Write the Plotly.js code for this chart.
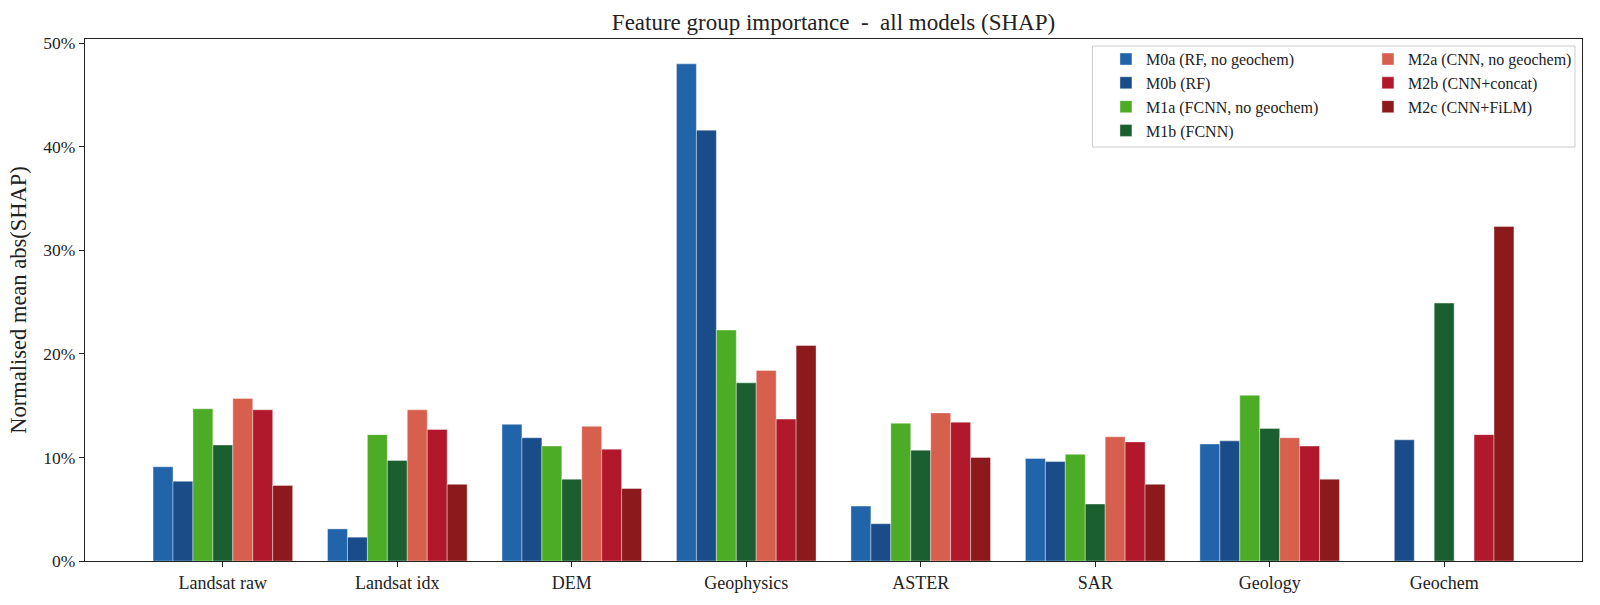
<!DOCTYPE html>
<html>
<head>
<meta charset="utf-8">
<script src="https://cdn.plot.ly/plotly-3.0.1.min.js"></script>
<style>
  html, body { margin: 0; padding: 0; background: #fff; }
  #graph { width: 1600px; height: 605px; }
</style>
</head>
<body>
<div id="graph"></div>
<script>
// feature groups on the x axis
const groups = ['Landsat raw', 'Landsat idx', 'DEM', 'Geophysics', 'ASTER', 'SAR', 'Geology', 'Geochem'];

// normalised mean |SHAP| per model, in percent (null = group not used by model)
const m0a = [9.1, 3.1, 13.2, 48.0, 5.3, 9.9, 11.3, null];
const m0b = [7.7, 2.3, 11.9, 41.6, 3.6, 9.6, 11.6, 11.7];
const m1a = [14.7, 12.2, 11.1, 22.3, 13.3, 10.3, 16.0, null];
const m1b = [11.2, 9.7, 7.9, 17.2, 10.7, 5.5, 12.8, 24.9];
const m2a = [15.7, 14.6, 13.0, 18.4, 14.3, 12.0, 11.9, null];
const m2b = [14.6, 12.7, 10.8, 13.7, 13.4, 11.5, 11.1, 12.2];
const m2c = [7.3, 7.4, 7.0, 20.8, 10.0, 7.4, 7.9, 32.3];

const names = ['M0a (RF, no geochem)', 'M0b (RF)', 'M1a (FCNN, no geochem)', 'M1b (FCNN)',
               'M2a (CNN, no geochem)', 'M2b (CNN+concat)', 'M2c (CNN+FiLM)'];
const colours = ['#2264aa', '#1b4c8a', '#4dac26', '#1b5e30', '#d6604d', '#b2182b', '#8c1a1c'];
const yTicks = [0, 10, 20, 30, 40, 50];

const serif = '"Liberation Serif", "DejaVu Serif", serif';
const series = [m0a, m0b, m1a, m1b, m2a, m2b, m2c];

// first four models in the left legend column, the CNNs in the right one
const data = series.map((vals, i) => ({
    type: 'bar',
    name: names[i],
    x: groups,
    y: vals,
    marker: { color: colours[i], line: { color: 'rgba(255,255,255,0.55)', width: 0.7 } },
    legend: i < 4 ? 'legend' : 'legend2',
    hoverinfo: 'x+y+name'
}));

const legendBase = {
    bgcolor: 'rgba(0,0,0,0)',
    borderwidth: 0,
    font: { family: serif, size: 16, color: '#222' },
    traceorder: 'normal',
    yanchor: 'top',
    xanchor: 'left'
};

const layout = {
    width: 1600,
    height: 605,
    margin: { l: 85, r: 18, t: 39, b: 44 },
    paper_bgcolor: '#fff',
    plot_bgcolor: '#fff',
    font: { family: serif, color: '#222' },
    barmode: 'group',
    bargap: 0.2,
    bargroupgap: 0,
    title: {
        text: 'Feature group importance \u00a0-\u00a0 all models (SHAP)',
        font: { family: serif, size: 23, color: '#222' },
        x: 0.5, xref: 'paper', xanchor: 'center',
        y: 0.964, yanchor: 'middle', yref: 'container'
    },
    xaxis: {
        type: 'category',
        range: [-0.79, 7.79],
        showline: true, mirror: true, linecolor: '#222', linewidth: 1.2,
        ticks: 'outside', ticklen: 5, tickcolor: '#222', tickwidth: 1,
        showgrid: false, zeroline: false,
        tickfont: { family: serif, size: 18, color: '#222' }
    },
    yaxis: {
        range: [0, 50.4],
        tickvals: yTicks,
        ticktext: yTicks.map(v => v + '%'),
        showline: true, mirror: true, linecolor: '#222', linewidth: 1.2,
        ticks: 'outside', ticklen: 5, tickcolor: '#222', tickwidth: 1,
        showgrid: false, zeroline: false,
        tickfont: { family: serif, size: 17.5, color: '#222' },
        title: { text: 'Normalised mean abs(SHAP)', font: { family: serif, size: 22.5, color: '#222' }, standoff: 10 }
    },
    legend: Object.assign({}, legendBase, { x: 0.682, y: 0.994 }),
    legend2: Object.assign({}, legendBase, { x: 0.857, y: 0.994 }),
    shapes: [{
        type: 'rect', xref: 'paper', yref: 'paper',
        x0: 0.673, x1: 0.9953, y0: 0.793, y1: 0.9866,
        line: { color: '#cccccc', width: 1 },
        fillcolor: 'rgba(255,255,255,0.8)',
        layer: 'below'
    }]
};

Plotly.newPlot('graph', data, layout, { displayModeBar: false, staticPlot: true });
</script>
</body>
</html>
